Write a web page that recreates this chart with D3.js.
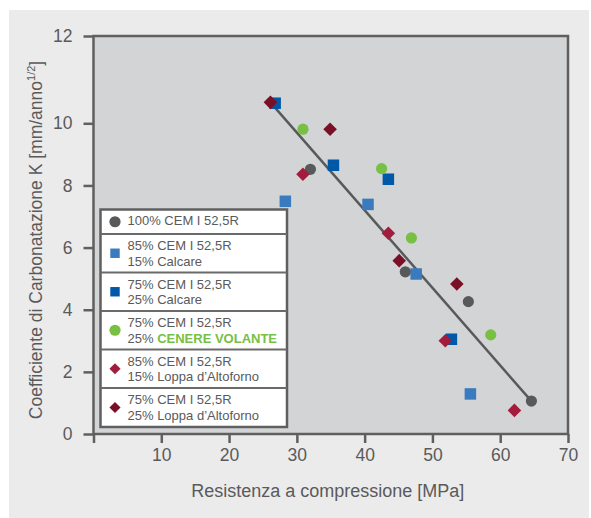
<!DOCTYPE html>
<html>
<head>
<meta charset="utf-8">
<script src="https://cdn.jsdelivr.net/npm/d3@7"></script>
<style>
  html, body { margin: 0; padding: 0; background: #ffffff; }
  svg { display: block; font-family: "Liberation Sans", Arial, sans-serif; }
</style>
</head>
<body>
<svg id="chart" width="591" height="518"></svg>
<script>
// ---------- data ----------
const xTicks = [0, 10, 20, 30, 40, 50, 60, 70];
const yTicks = [0, 2, 4, 6, 8, 10, 12];

const cem100 = [[32.0, 8.52], [46.0, 5.22], [55.3, 4.26], [64.6, 1.06]];
const calcare15 = [[28.3, 7.49], [40.5, 7.39], [47.6, 5.15], [55.6, 1.29]];
const calcare25 = [[26.8, 10.46], [35.4, 8.65], [43.5, 8.20], [52.8, 3.05]];
const cenere25 = [[30.9, 9.81], [42.5, 8.54], [46.9, 6.31], [58.6, 3.19]];
const loppa15 = [[30.9, 8.36], [43.5, 6.46], [51.9, 3.00], [62.1, 0.76]];
const loppa25 = [[26.1, 10.48], [34.9, 9.81], [45.1, 5.58], [53.6, 4.83]];
const trendLine = [[26.1, 10.48], [64.6, 1.06]];

const seriesNames = ["cem100", "calcare15", "calcare25", "cenere25", "loppa15", "loppa25"];
const seriesData = [cem100, calcare15, calcare25, cenere25, loppa15, loppa25];
const seriesColors = ["#58595b", "#3a7bc0", "#0058a8", "#77c043", "#a31c3d", "#7a1027"];
const seriesShapes = ["circle", "square", "square", "circle", "diamond", "diamond"];
const legendLine1 = ["100% CEM I 52,5R", "85% CEM I 52,5R", "75% CEM I 52,5R", "75% CEM I 52,5R", "85% CEM I 52,5R", "75% CEM I 52,5R"];
const legendLine2Prefix = [null, "15% ", "25% ", "25% ", "15% ", "25% "];
const legendLine2Rest = [null, "Calcare", "Calcare", "CENERE VOLANTE", "Loppa d\u2019Altoforno", "Loppa d\u2019Altoforno"];

const xTitle = "Resistenza a compressione [MPa]";
const yTitle = "Coefficiente di Carbonatazione K [mm/anno";
const yTitleSup = "1/2";

// ---------- layout ----------
const textColor = "#5a5a5b";
const frameColor = "#5f5f60";
const svg = d3.select("#chart");

svg.append("rect").attr("x", 9).attr("y", 10).attr("width", 580).attr("height", 508).attr("fill", "#ebebeb");

const x = d3.scaleLinear().domain([0, 70]).range([93.5, 568]);
const y = d3.scaleLinear().domain([0, 10, 12]).range([434, 123.3, 36]);

// plot area
svg.append("rect")
  .attr("x", x(0)).attr("y", y(12))
  .attr("width", x(70) - x(0)).attr("height", y(0) - y(12))
  .attr("fill", "#d3d4d6")
  .attr("stroke", frameColor).attr("stroke-width", 2.5);

// axes
const xAxis = d3.axisBottom(x).tickValues(xTicks).tickSize(9).tickPadding(6)
  .tickFormat(d => d === 0 ? "" : d);
const gx = svg.append("g").attr("transform", `translate(0,${y(0)})`).call(xAxis);
gx.select(".domain").remove();
gx.selectAll(".tick line").attr("stroke", frameColor).attr("stroke-width", 2.5);
gx.selectAll(".tick text").attr("fill", textColor).attr("font-size", 17.5)
  .attr("font-family", "Liberation Sans, Arial, sans-serif");

const yAxis = d3.axisLeft(y).tickValues(yTicks).tickSize(10).tickPadding(11);
const gy = svg.append("g").attr("transform", `translate(${x(0)},0)`).call(yAxis);
gy.select(".domain").remove();
gy.selectAll(".tick line").attr("stroke", frameColor).attr("stroke-width", 2.5);
gy.selectAll(".tick text").attr("fill", textColor).attr("font-size", 17.5)
  .attr("font-family", "Liberation Sans, Arial, sans-serif");

// titles
svg.append("text")
  .attr("x", (x(0) + x(70)) / 2 - 3).attr("y", 497)
  .attr("text-anchor", "middle").attr("fill", textColor).attr("font-size", 18)
  .text(xTitle);

const yt = svg.append("text")
  .attr("transform", `translate(42,${(y(0) + y(12)) / 2 + 5}) rotate(-90)`)
  .attr("text-anchor", "middle").attr("fill", textColor).attr("font-size", 17.5);
yt.append("tspan").text(yTitle);
yt.append("tspan").attr("font-size", 11).attr("dy", -7).text(yTitleSup);
yt.append("tspan").attr("dy", 7).text("]");

// trend line
svg.append("path")
  .datum(trendLine)
  .attr("d", d3.line().x(d => x(d[0])).y(d => y(d[1])))
  .attr("fill", "none").attr("stroke", "#58595b").attr("stroke-width", 2.5);

// markers
const symbolFor = {
  circle: d3.symbol().type(d3.symbolCircle).size(Math.PI * 5.6 * 5.6),
  square: d3.symbol().type(d3.symbolSquare).size(11.5 * 11.5),
  diamond: d3.symbol().type(d3.symbolSquare).size(9.6 * 9.6)
};
function drawMarker(g, shape, color, cx, cy) {
  g.append("path")
    .attr("d", symbolFor[shape]())
    .attr("transform", `translate(${cx},${cy})` + (shape === "diamond" ? " rotate(45)" : ""))
    .attr("fill", color);
}
const markerOrder = [1, 2, 3, 0, 4, 5];
markerOrder.forEach(i => {
  const g = svg.append("g").attr("class", seriesNames[i]);
  seriesData[i].forEach(d => drawMarker(g, seriesShapes[i], seriesColors[i], x(d[0]), y(d[1])));
});

// legend
const legX = 100.5, legW = 186.5;
const rowBounds = [209.5, 234, 272.5, 311, 349.5, 388, 427];
const leg = svg.append("g");
leg.append("rect")
  .attr("x", legX).attr("y", rowBounds[0])
  .attr("width", legW).attr("height", rowBounds[6] - rowBounds[0])
  .attr("fill", "#ffffff").attr("stroke", frameColor).attr("stroke-width", 2.5);
for (let r = 1; r < 6; r++) {
  leg.append("line")
    .attr("x1", legX).attr("x2", legX + legW)
    .attr("y1", rowBounds[r]).attr("y2", rowBounds[r])
    .attr("stroke", "#6a6a6b").attr("stroke-width", 2);
}
seriesNames.forEach((name, i) => {
  const top = rowBounds[i], bot = rowBounds[i + 1];
  const mid = (top + bot) / 2;
  const mg = leg.append("g");
  const sc = seriesShapes[i] === "circle" ? 1 : 0.82;
  mg.append("path")
    .attr("d", symbolFor[seriesShapes[i]]())
    .attr("transform", `translate(115,${mid}) scale(${sc})` + (seriesShapes[i] === "diamond" ? " rotate(45)" : ""))
    .attr("fill", seriesColors[i]);
  if (legendLine2Prefix[i] === null) {
    leg.append("text").attr("x", 127.5).attr("y", top + 15.8)
      .attr("fill", textColor).attr("font-size", 13).text(legendLine1[i]);
  } else {
    leg.append("text").attr("x", 127.5).attr("y", top + 16)
      .attr("fill", textColor).attr("font-size", 13).text(legendLine1[i]);
    const t2 = leg.append("text").attr("x", 127.5).attr("y", top + 31.5)
      .attr("fill", textColor).attr("font-size", 13);
    t2.append("tspan").text(legendLine2Prefix[i]);
    const bold = name === "cenere25";
    t2.append("tspan").text(legendLine2Rest[i])
      .attr("font-weight", bold ? "bold" : null)
      .attr("fill", bold ? seriesColors[i] : textColor);
  }
});
</script>
</body>
</html>
